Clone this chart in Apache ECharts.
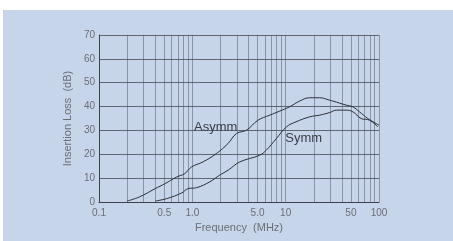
<!DOCTYPE html>
<html>
<head>
<meta charset="utf-8">
<script src="https://cdn.jsdelivr.net/npm/echarts@6/dist/echarts.min.js"></script>
<style>
html,body{margin:0;padding:0;background:#fff;}
#bg{position:absolute;left:3px;top:10px;width:450px;height:231px;background:#c7d5eb;}
#main{position:absolute;left:0;top:0;width:453px;height:241px;}
</style>
</head>
<body>
<div id="bg"></div>
<div id="main"></div>
<script>
// curve values (MHz, dB)
var asymmFreq = [0.2, 0.27, 0.4, 0.51, 0.68, 0.83, 0.98, 1.3, 1.81, 2.41, 2.97, 3.8, 5.06, 6.75, 8.63, 11, 14.1, 18.1, 23.1, 29.6, 32.1, 44.6, 52.5, 61.8, 75.9, 100];
var asymmLoss = [0.4, 2.1, 5.6, 7.7, 10.5, 11.9, 14.7, 16.8, 20.3, 24.5, 28.7, 30.1, 34.3, 36.4, 38.1, 39.9, 42.3, 43.7, 43.7, 42.7, 42.3, 40.6, 39.9, 37.8, 35, 32.2];
var symmFreq = [0.4, 0.53, 0.77, 0.9, 1.11, 1.53, 1.97, 2.41, 3.22, 5.26, 6.19, 7.95, 10.2, 12.9, 18.1, 23.1, 29.6, 35, 44.6, 52.5, 64.3, 79, 97];
var symmLoss = [0.4, 1.4, 3.8, 5.6, 6, 8.4, 11.3, 13.3, 16.8, 19.6, 21.7, 26.6, 31.5, 33.6, 35.7, 36.4, 37.5, 38.5, 38.5, 37.8, 35, 34.3, 31.5];
var freqLabels = [0.1, 0.5, 1, 5, 10, 50, 100];
var freqGrid = [0.1, 0.2, 0.3, 0.4, 0.5, 0.6, 0.7, 0.8, 0.9, 1, 2, 3, 4, 5, 6, 7, 8, 9, 10, 20, 30, 40, 50, 60, 70, 80, 90, 100];

function pairs(xs, ys) {
  return xs.map(function (x, i) { return [x, ys[i]]; });
}

var chart = echarts.init(document.getElementById('main'));
var font = 'Liberation Sans';
var lineStyle = { color: '#2c2f36', width: 1 };

function curveLabel(text, coord) {
  return {
    symbol: 'circle',
    symbolSize: 1,
    itemStyle: { color: 'rgba(0,0,0,0)' },
    label: { show: true, position: 'inside', formatter: text, color: '#3a3d44', fontSize: 13, fontFamily: font },
    data: [{ coord: coord }]
  };
}

chart.setOption({
  animation: false,
  grid: { left: 99, right: 74, top: 35, bottom: 39 },
  xAxis: {
    type: 'log',
    min: 0.1,
    max: 100,
    name: 'Frequency  (MHz)',
    nameLocation: 'middle',
    nameGap: 20,
    nameTextStyle: { color: '#6b6e75', fontSize: 11, fontFamily: font },
    axisLine: { show: true, lineStyle: { color: '#3c4048' } },
    axisTick: { show: false, customValues: freqGrid },
    axisLabel: {
      customValues: freqLabels,
      color: '#6b6e75', fontSize: 10, fontFamily: font, margin: 6,
      formatter: function (v) { return v < 10 ? v.toFixed(1) : String(v); }
    },
    splitLine: { show: true, lineStyle: { color: '#4c5260', width: 1, opacity: 0.5 } }
  },
  yAxis: {
    type: 'value',
    min: 0,
    max: 70,
    interval: 10,
    name: 'Insertion Loss  (dB)',
    nameLocation: 'middle',
    nameGap: 20,
    nameTextStyle: { color: '#6b6e75', fontSize: 11, fontFamily: font },
    axisLine: { show: true, lineStyle: { color: '#3c4048' } },
    axisTick: { show: false },
    axisLabel: { color: '#6b6e75', fontSize: 10, fontFamily: font, margin: 4 },
    splitLine: { show: true, lineStyle: { color: '#3c4048', width: 1, opacity: 0.75 } }
  },
  series: [
    {
      name: 'Asymm',
      type: 'line',
      smooth: 0.4,
      symbol: 'none',
      lineStyle: lineStyle,
      data: pairs(asymmFreq, asymmLoss),
      markPoint: curveLabel('Asymm', [1.78, 31.4])
    },
    {
      name: 'Symm',
      type: 'line',
      smooth: 0.4,
      symbol: 'none',
      lineStyle: lineStyle,
      data: pairs(symmFreq, symmLoss),
      markPoint: curveLabel('Symm', [15.6, 26.8])
    }
  ]
});
</script>
</body>
</html>
